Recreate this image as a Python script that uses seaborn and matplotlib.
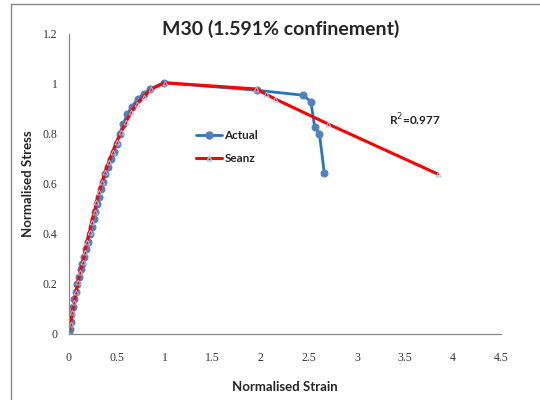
import matplotlib
matplotlib.use("Agg")
import matplotlib.pyplot as plt
import seaborn as sns
import pandas as pd
from matplotlib.lines import Line2D

# ---- data ----
actual_strain = [0.00, 0.01, 0.02, 0.03, 0.05, 0.06, 0.08, 0.09, 0.11, 0.13,
                 0.14, 0.16, 0.18, 0.20, 0.22, 0.24, 0.26, 0.28, 0.30, 0.32,
                 0.34, 0.36, 0.38, 0.41, 0.44, 0.47, 0.50, 0.53, 0.57, 0.61,
                 0.66, 0.72, 0.78, 0.85, 0.99, 1.96, 2.44, 2.52, 2.56, 2.61, 2.66]
actual_stress = [0.00, 0.02, 0.05, 0.08, 0.11, 0.14, 0.17, 0.20, 0.23, 0.26,
                 0.28, 0.31, 0.34, 0.37, 0.40, 0.43, 0.46, 0.49, 0.52, 0.55,
                 0.58, 0.61, 0.64, 0.67, 0.70, 0.73, 0.76, 0.80, 0.84, 0.88,
                 0.91, 0.94, 0.96, 0.98, 1.005, 0.975, 0.955, 0.93, 0.83, 0.80, 0.645]

seanz_strain = [0.00, 0.02, 0.04, 0.06, 0.08, 0.10, 0.12, 0.15, 0.17, 0.19,
                0.22, 0.24, 0.27, 0.29, 0.32, 0.35, 0.38, 0.42, 0.46, 0.50,
                0.55, 0.60, 0.65, 0.71, 0.78, 0.86, 1.00, 1.95, 2.05, 2.15,
                2.70, 3.84]
seanz_stress = [0.00, 0.04, 0.09, 0.13, 0.17, 0.21, 0.25, 0.29, 0.33, 0.37,
                0.41, 0.45, 0.49, 0.53, 0.57, 0.61, 0.65, 0.69, 0.73, 0.77,
                0.81, 0.85, 0.89, 0.92, 0.95, 0.98, 1.005, 0.98, 0.96, 0.94,
                0.84, 0.64]

x_ticks = [0, 0.5, 1, 1.5, 2, 2.5, 3, 3.5, 4, 4.5]
x_tick_labels = ["0", "0.5", "1", "1.5", "2", "2.5", "3", "3.5", "4", "4.5"]
y_ticks = [0, 0.2, 0.4, 0.6, 0.8, 1, 1.2]
y_tick_labels = ["0", "0.2", "0.4", "0.6", "0.8", "1", "1.2"]

title = "M30 (1.591% confinement)"
r2_text = "R$^2$=0.977"

df_a = pd.DataFrame({"strain": actual_strain, "stress": actual_stress})
df_s = pd.DataFrame({"strain": seanz_strain, "stress": seanz_stress})

sns.set_style("white")
fig = plt.figure(figsize=(5.4, 4.0), dpi=100)
ax = fig.add_axes([0.127, 0.165, 0.801, 0.75])

sns.lineplot(data=df_a, x="strain", y="stress", sort=False, estimator=None,
             ax=ax, color="#1f77c4", linewidth=2.0, marker="o",
             markersize=5, markerfacecolor="#4f81bd", markeredgecolor="#4f81bd")
sns.lineplot(data=df_s, x="strain", y="stress", sort=False, estimator=None,
             ax=ax, color="#ff0000", linewidth=2.2, marker="^",
             markersize=3.5, markerfacecolor="none", markeredgecolor="#a8c4e8",
             markeredgewidth=0.7)

ax.set_xlim(0, 4.5)
ax.set_ylim(0, 1.2)
ax.set_xticks(x_ticks)
ax.set_xticklabels(x_tick_labels, fontfamily="Liberation Serif", fontsize=8.5, color="#333333")
ax.set_yticks(y_ticks)
ax.set_yticklabels(y_tick_labels, fontfamily="Liberation Serif", fontsize=8.5, color="#333333")
ax.tick_params(axis="both", direction="out", length=4, width=0.8, color="#888888", pad=4)
ax.tick_params(axis="x", pad=9)
for s in ["top", "right"]:
    ax.spines[s].set_visible(False)
for s in ["left", "bottom"]:
    ax.spines[s].set_color("#888888")
    ax.spines[s].set_linewidth(0.9)

ax.set_xlabel("Normalised Strain", fontfamily="Lato", fontweight="bold", fontsize=9.5, labelpad=12)
ax.set_ylabel("Normalised Stress", fontfamily="Lato", fontweight="bold", fontsize=9.5, labelpad=6)

fig.text(0.519, 0.928, title, ha="center", va="center", fontfamily="Lato",
         fontweight="bold", fontsize=14)

ax.text(3.33, 0.857, r2_text, ha="left", va="center", fontfamily="Lato",
        fontweight="bold", fontsize=8.5)

handles = [
    Line2D([], [], color="#1f77c4", linewidth=2.0, marker="o", markersize=5,
           markerfacecolor="#4f81bd", markeredgecolor="#4f81bd"),
    Line2D([], [], color="#ff0000", linewidth=2.2, marker="^", markersize=3.5,
           markerfacecolor="none", markeredgecolor="#a8c4e8"),
]
ax.legend(handles, ["Actual", "Seanz"], loc="upper left",
          bbox_to_anchor=(0.27, 0.715), frameon=False, handlelength=2.2,
          handletextpad=0.2, labelspacing=1.0,
          prop={"family": "Lato", "weight": "bold", "size": 8.5})

# outer chart frame
fig.add_artist(Line2D([11 / 540, 11 / 540], [0, 1 - 4 / 400], transform=fig.transFigure,
                      color="#888888", linewidth=1.0))
fig.add_artist(Line2D([11 / 540, 1], [1 - 4 / 400, 1 - 4 / 400], transform=fig.transFigure,
                      color="#888888", linewidth=1.0))

fig.savefig("out.png", dpi=100)
